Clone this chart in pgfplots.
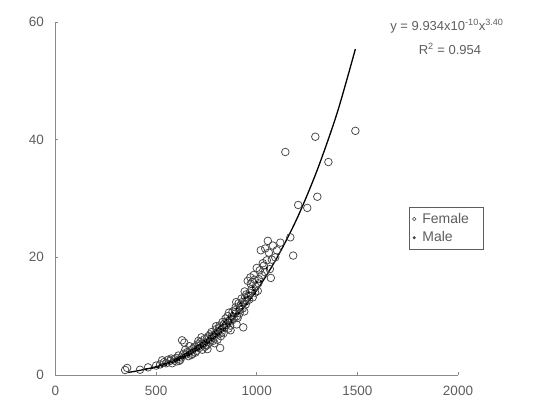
\documentclass[border=0pt]{standalone}
\usepackage{fontspec}
\setmainfont{Liberation Sans}
\usepackage{pgfplots}
\pgfplotsset{compat=1.18}
\definecolor{txtgray}{HTML}{5E5E5E}
\definecolor{axgray}{HTML}{8A8A8A}
\definecolor{circgray}{HTML}{444444}
\begin{document}
\begin{tikzpicture}
\path[use as bounding box] (-55.5pt,-35pt) rectangle (481.5pt,375pt);
\begin{axis}[
  scale only axis, width=402.5pt, height=353pt,
  xmin=0, xmax=2000, ymin=0, ymax=60,
  axis lines=left, axis line style={-, axgray, line width=0.9pt},
  xtick={0,500,1000,1500,2000}, ytick={0,20,40,60},
  tick align=inside, major tick length=3pt,
  tick style={axgray, line width=0.8pt},
  tick label style={font=\fontsize{13.5}{15}\selectfont, text=txtgray},
  xticklabel style={yshift=-8pt},
  yticklabel style={xshift=-8pt},
  /pgf/number format/assume math mode=true,
  /pgf/number format/1000 sep={},
  clip=false,
  legend style={at={(axis cs:1755,28.6)}, anchor=north west, draw=txtgray, line width=0.9pt,
    font=\fontsize{14}{16}\selectfont, text=txtgray, inner xsep=3pt, inner ysep=4pt,
    row sep=3pt, legend cell align=left, text width=56pt,
    /tikz/column 1/.style={column sep=4pt}},
]
\addplot[only marks, mark=o, mark size=3.8pt, mark options={draw=circgray, line width=0.75pt},
  legend image code/.code={\draw[circgray, line width=0.6pt] (0.12cm,0cm) circle (1.8pt);}] coordinates {
(356,1.2) (346,0.85) (420,0.9) (460,1.3) (500,1.6) (520,1.8) (530,2.5) (550,2.0) (570,2.4) (580,2.0)
(600,2.9) (610,3.3) (620,2.6) (629,5.9) (640,5.5) (650,3.5) (660,3.2) (670,4.2) (680,3.6) (690,4.8)
(700,4.1) (705,5.2) (715,4.6) (720,5.6) (730,4.3) (740,6.1) (750,5.0) (755,4.4) (760,6.6) (770,5.9)
(775,7.3) (785,6.3) (790,5.4) (800,7.8) (810,6.9) (815,8.4) (818,4.6) (825,7.2) (830,9.0) (840,8.0)
(850,8.6) (855,10.0) (865,9.2) (870,7.6) (880,10.8) (885,9.6) (895,11.5) (900,8.6) (910,12.2) (915,10.5)
(925,13.0) (930,11.3) (933,8.1) (940,14.2) (950,12.6) (955,16.0) (965,14.0) (970,15.5) (980,13.2) (985,17.0)
(995,15.0) (1000,18.2) (1010,16.3) (1020,21.2) (1030,19.0) (1040,17.5) (1042,21.5) (1060,20.8) (1070,16.5) (1080,22.0)
(1092,20.0) (1117,22.5) (1167,23.4) (1181,20.3) (1142,37.9) (1206,28.9) (1251,28.4) (1291,40.5) (1301,30.3) (1356,36.2)
(1490,41.5) (645,4.3) (665,4.9) (695,3.8) (725,6.4) (745,5.1) (765,5.5) (795,7.0) (805,6.0) (835,7.1)
(845,9.6) (860,7.9) (875,9.9) (890,10.4) (905,9.7) (920,11.9) (945,12.0) (960,13.5) (975,14.6) (990,16.2)
(1005,14.3) (1015,17.8) (1035,18.6) (1050,19.5) (1065,18.0) (1100,21.2) (560,2.6) (590,2.7) (615,2.4) (635,3.6)
(600,2.3) (625,3.0) (655,3.9) (675,3.4) (685,4.5) (710,4.9) (735,5.3) (752,6.2) (768,6.9) (782,5.8)
(798,8.3) (808,7.4) (822,6.6) (838,8.7) (852,9.1) (868,8.4) (878,9.3) (892,11.0) (902,10.0) (918,11.1)
(928,12.4) (938,10.8) (948,13.7) (962,12.8) (978,15.8) (992,14.0) (1008,15.6) (1025,17.0) (540,2.2) (575,2.8)
(710,5.8) (742,4.8) (778,6.6) (812,8.0) (862,10.6) (898,12.4) (942,13.2) (968,16.6) (1055,22.8) (1075,19.6)
};
\addlegendentry{Female}
\addplot[only marks, mark=*, mark size=0.9pt, mark options={fill=black, draw=black},
  legend image code/.code={\fill[circgray] (0.12cm,0cm) circle (1pt);}] coordinates {
(450,1.0) (480,1.2) (500,1.4) (510,1.3) (520,1.7) (530,1.5) (540,1.9) (550,1.7) (560,2.1) (565,2.0)
(570,2.3) (580,2.1) (590,2.5) (595,2.3) (600,2.7) (605,2.5) (610,2.9) (615,2.6) (620,3.1) (625,2.8)
(630,3.2) (635,2.9) (640,3.5) (645,3.1) (650,3.7) (655,3.3) (660,3.9) (665,3.4) (670,4.1) (675,3.6)
(680,4.3) (685,3.9) (690,4.5) (695,4.1) (700,4.8) (705,4.2) (710,5.0) (715,4.4) (720,5.2) (725,4.6)
(730,5.5) (735,4.9) (740,5.8) (745,5.1) (750,6.0) (755,5.4) (760,6.3) (765,5.6) (770,6.7) (775,5.9)
(780,7.0) (785,6.2) (790,7.3) (795,6.5) (800,7.6) (805,6.8) (810,8.0) (815,7.0) (820,8.3) (825,7.3)
(830,8.6) (835,7.6) (840,9.0) (845,7.9) (850,9.4) (855,8.3) (860,9.8) (865,8.6) (870,10.1) (875,9.0)
(880,10.6) (890,10.0) (900,11.3) (910,10.5) (920,12.2) (930,11.3) (940,13.1) (950,12.0) (960,14.0) (970,13.0)
(980,14.9) (990,13.8) (1000,15.8) (1020,15.9) (1050,18.2) (698,4.5) (722,4.9) (748,5.6) (772,6.2) (798,7.0)
(822,7.8) (848,8.7) (872,9.4) (896,10.4) (925,11.8) (955,13.3) (985,14.4) (660,3.6) (640,3.2) (612,2.8)
};
\addlegendentry{Male}
\addplot[no marks, black, line width=1.3pt, smooth] coordinates {
(361,0.45) (400,0.66) (500,1.40) (600,2.58) (700,4.33) (800,6.80) (900,10.1) (1000,14.4)
(1100,19.9) (1200,26.6) (1300,34.8) (1400,44.6) (1490,55.4)
};
\node[anchor=center, text=txtgray, font=\fontsize{13}{15}\selectfont] at (axis cs:1945,59.3) {y = 9.934x10\textsuperscript{-10}x\textsuperscript{3.40}};
\node[anchor=center, text=txtgray, font=\fontsize{13}{15}\selectfont] at (axis cs:1960,55.4) {R\textsuperscript{2} = 0.954};
\end{axis}
\end{tikzpicture}
\end{document}
